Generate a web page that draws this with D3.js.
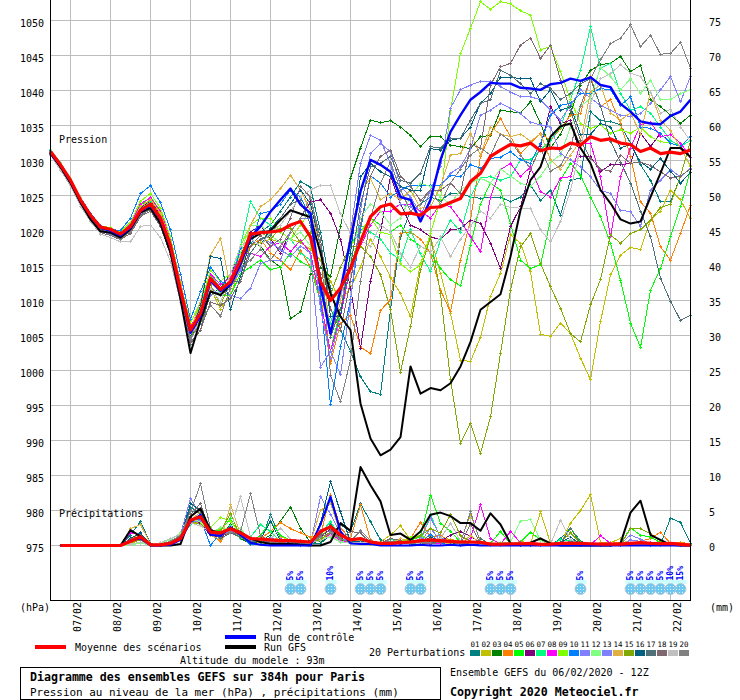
<!DOCTYPE html>
<html><head><meta charset="utf-8">
<script src="https://cdnjs.cloudflare.com/ajax/libs/d3/7.8.5/d3.min.js"></script>
<style>
html,body{margin:0;padding:0;background:#fff}
svg{display:block}
text{font-family:"DejaVu Sans Mono",monospace;font-size:10px;fill:#000}
</style></head><body><svg id="c" width="740" height="700"></svg>
<script>
const dateLabels=["07/02","08/02","09/02","10/02","11/02","12/02","13/02","14/02","15/02","16/02","17/02","18/02","19/02","20/02","21/02","22/02"];
const dateSteps=[2,6,10,14,18,22,26,30,34,38,42,46,50,54,58,62];
const pressureTicks=[1050,1045,1040,1035,1030,1025,1020,1015,1010,1005,1000,995,990,985,980,975];
const rainTicks=[75,70,65,60,55,50,45,40,35,30,25,20,15,10,5,0];
const memberIds=["01","02","03","04","05","06","07","08","09","10","11","12","13","14","15","16","17","18","19","20"];
const memberColors=["#008080","#c0c000","#008000","#ff8000","#00ff00","#800080","#00ff80","#ff00ff","#80ff00","#0080ff","#8080ff","#80ff80","#8080ff","#e0b040","#80a800","#006080","#507078","#806870","#c0c0c0","#808080"];

const meanP=[1031.5,1029.6,1027.4,1024.6,1022.4,1020.7,1020.4,1019.7,1020.8,1023.1,1024,1022,1018.1,1011.7,1006,1008.4,1013.4,1011.8,1012.9,1016,1019.7,1019.9,1020,1020.2,1021,1021.5,1019.3,1012.9,1010.2,1012,1014.8,1018.6,1022.2,1023.6,1024,1022.6,1022.7,1022.4,1023.5,1023.6,1024.2,1024.8,1027.2,1028.4,1030.8,1031.7,1032.5,1032.3,1032.7,1031.6,1032,1031.9,1032.7,1032.4,1033.6,1033.1,1033.3,1032.7,1032.5,1031.5,1032,1031.2,1031.4,1031.2,1031.7];
const controlP=[1031.3,1029.5,1027.3,1024.5,1022.3,1020.6,1020.2,1019.5,1020.6,1023,1023.8,1021.8,1017.9,1011.4,1005.6,1008,1013,1011.6,1012.5,1015.4,1019.3,1020.8,1022.9,1024.6,1026.2,1023.9,1022.7,1012.2,1005.5,1011.7,1018.9,1025.8,1030.3,1029.6,1028.6,1025,1024.6,1021.5,1024.6,1030.3,1034.3,1036.7,1038.9,1040,1041.3,1041.2,1041.2,1040.6,1040.5,1040.3,1041.1,1041.3,1041.9,1041.6,1042.1,1041,1040.7,1038.3,1037.2,1035.8,1035.5,1035.4,1036.6,1037.2,1038.9];
const gfsP=[1031.2,1029.3,1027,1024.2,1021.8,1020.1,1019.9,1019.2,1020.4,1022.8,1023.4,1021.2,1017,1010.4,1002.7,1007.4,1011.5,1011,1012.5,1015.5,1019,1019.8,1020.2,1021.7,1023.1,1022.6,1022.1,1017,1011.2,1007.9,1006,995.5,990.5,988.1,988.9,990.7,1000.8,996.9,997.7,997.4,998.4,1000.8,1004.3,1008.9,1010,1011.1,1016.5,1023.1,1027.4,1029.3,1033.6,1035.1,1035.5,1032,1029.8,1026,1024.1,1021.8,1021.2,1021.5,1025,1028.4,1032,1032,1030.7];

const p01=[1031.3,1029.4,1027.2,1024.4,1022.2,1020.6,1020.3,1019.6,1020.6,1023,1023.6,1021.8,1017.8,1011.2,1005.5,1008,1013,1012,1013,1016,1019,1020,1021,1023,1025,1027.2,1026.4,1020,1012,1006,1003,999.3,997.2,996.8,1008.9,1019.3,1023,1024,1025,1024.5,1025.5,1025.5,1025,1024.8,1025,1025,1024.3,1025,1026.7,1024.5,1026,1022.4,1027.4,1027.7,1037.2,1035.9,1035.8,1035.3,1032.7,1029.6,1027.4,1024.3,1024.3,1027.9,1029.1];
const p02=[1031,1029,1026.8,1024,1021.8,1020,1019.8,1019.2,1020.4,1023,1024.2,1022.4,1018.6,1012.4,1005,1007.5,1012,1009,1011,1015,1018,1018.5,1019,1018.5,1019,1018.5,1017.5,1016,1013,1010,1012,1015,1019,1016.5,1013.5,1011.2,1007.9,1015.5,1019.3,1014.1,1008.4,1001.7,1001.5,1005,1010.8,1014.1,1019.6,1018.4,1014.3,1005.4,1005.1,1007,1005.5,1002,998.9,1007.2,1013.9,1016.7,1017.8,1017.5,1021.7,1023,1026,1024.6,1021.9];
const p03=[1031.6,1029.7,1027.5,1024.5,1022.2,1020.4,1020,1019.3,1020.2,1022.6,1023.6,1021.5,1017.5,1010.5,1005,1007,1011,1012,1014,1017,1018.5,1018,1016,1015,1007.6,1008.6,1014,1015,1013.6,1020.8,1027.7,1032,1036,1035.6,1035.9,1035,1033.8,1032.2,1033.7,1033.6,1032.4,1032.2,1031.9,1033.6,1033.8,1037.4,1037.2,1037,1038.6,1035.5,1032,1034,1037,1041,1043.1,1043.9,1044.1,1045.1,1042.9,1043.8,1038.9,1037.9,1036.7,1035.5,1036.7];
const p04=[1031.4,1029.5,1027.5,1024.8,1022.6,1020.8,1020.5,1019.8,1021,1023.5,1024.6,1022.6,1018.6,1012.4,1006,1009,1014,1012,1013,1016,1018,1019,1017,1016,1014.6,1017.4,1015,1011,1001.2,1007,1008.1,1003.6,1002.6,1008.8,1010.3,1019.8,1020,1019,1017,1011.7,1008.6,1016,1021.7,1030.8,1034,1036.2,1033.6,1031.2,1032.7,1034.1,1033.1,1034.8,1036.7,1036.9,1042.2,1037.9,1038.9,1035.5,1030.8,1024.3,1022.7,1017.9,1016,1019.8,1023.8];
const p05=[1031.4,1029.5,1027.3,1024.6,1022.5,1020.7,1020.5,1019.9,1021,1023.8,1025,1023,1019,1012.5,1006.5,1009,1014,1011,1011,1014,1015,1016,1014.6,1015,1017,1015.8,1015,1010,1003,1009,1015,1020,1022,1021,1020,1021,1019,1018,1017,1014.8,1013.2,1012.3,1018.1,1024,1027,1026,1021.2,1016,1014.8,1015.3,1021.7,1027.4,1029.8,1028.1,1025,1022.2,1018.4,1013.1,1007,1003.5,1011.7,1014.8,1019.3,1023.6,1028.9];
const p06=[1031.1,1029.2,1027,1024.2,1022,1020.3,1020,1019.5,1020.5,1023.4,1024.4,1022.4,1018.2,1011.8,1005.5,1008.5,1013.5,1011.5,1013,1016,1020,1021,1019,1017,1020,1022,1024.3,1024.6,1022.7,1019,1012,1003.4,1013,1020,1028,1024,1021,1020.3,1019.3,1018.9,1020.3,1020.5,1021.7,1021.2,1018.4,1014.8,1020.8,1023.6,1028.9,1032.2,1037.9,1035.5,1036,1030.8,1030.8,1028.6,1029.6,1029.6,1029.8,1034.1,1032.2,1034.1,1032.7,1032.2,1030.7];
const p07=[1031.7,1029.8,1027.6,1024.7,1022.4,1020.6,1020.3,1019.7,1020.9,1023.3,1024.3,1022.3,1018.3,1012,1006,1009.5,1014,1012,1013,1018,1024.3,1022,1021,1020,1019,1017,1016,1012,1007,1012,1018,1021,1020,1019,1017,1016,1020.3,1016.9,1014.3,1018.9,1021.7,1020,1025,1027.7,1027.9,1027.4,1027.9,1030.3,1030.3,1031.7,1033.1,1035,1038.9,1043.1,1049.3,1043.4,1044.1,1039.8,1037.4,1037.9,1037,1035,1033.1,1032.2,1033.1];
const p08=[1031.2,1029.3,1027.1,1024.3,1022.3,1020.6,1020.1,1019.6,1021.2,1024,1024.9,1022.9,1018.9,1012.5,1006.5,1009,1014,1012.5,1013.5,1017,1017,1016.5,1018,1018.5,1017.2,1018.8,1017,1010,1003,1008,1015,1018,1021,1023,1023,1024,1024,1023,1022,1024,1023.6,1021.7,1019.3,1017.2,1025,1028.9,1029.8,1027.9,1029.3,1025.8,1025,1027.7,1027.9,1032.7,1032.7,1027.9,1019.3,1027.9,1032,1035.3,1035.7,1033.6,1033.9,1032.7,1030.7];
const p09=[1031.5,1029.6,1027.5,1024.7,1022.6,1020.9,1020.6,1020,1021.4,1024.4,1025.5,1023.4,1019.3,1012.8,1007,1010,1014.5,1013,1014,1018,1021,1022,1022,1020,1019,1021,1023,1018,1011,1015,1018,1020,1022,1020,1019.6,1015.5,1014.3,1015.3,1019.8,1024.6,1037.4,1045.5,1049.1,1052.9,1051.8,1052.9,1052.6,1051.6,1051,1046,1046.5,1042.9,1038.9,1035.5,1034.8,1035.3,1034.1,1034.6,1034.1,1035,1033.6,1032.9,1032.7,1032.2,1029.3];
const p10=[1031.6,1029.8,1027.6,1024.9,1022.7,1020.9,1020.4,1020.2,1022,1025.5,1026.6,1024.2,1020.3,1014,1007.5,1011.5,1015,1013,1012,1017.7,1017.9,1022.6,1023,1024,1026,1025,1022,1011,995.3,1003.6,1010.3,1020.3,1028,1027,1025,1026,1026.7,1026.7,1026.7,1026.7,1028.1,1027.9,1029.6,1029.1,1030.5,1030.7,1031.5,1030.3,1029.8,1032.7,1036.7,1038.1,1038.4,1039.8,1039.8,1040.5,1040.3,1038.1,1039.3,1035,1034.8,1034.1,1032.7,1032.2,1033.6];
const p11=[1031,1029.1,1026.9,1024.1,1021.9,1020.1,1019.7,1019,1020.2,1022.8,1024,1022,1018,1011.5,1005,1008,1011,1011.5,1011,1010.5,1012,1015.5,1016,1016,1020,1022,1022,1009,1002,1008,1020,1029.8,1033.8,1033.1,1029.8,1024,1023.6,1022.2,1026,1029.3,1037.7,1040.3,1041,1041.5,1041.5,1040.8,1040,1039.3,1039.3,1038.9,1037.4,1036,1038.1,1040.3,1039.1,1038.1,1037.4,1036.7,1036.5,1036.9,1038.4,1040.3,1042.2,1038.6,1042.2];
const p12=[1031.8,1029.9,1027.7,1024.9,1022.5,1020.7,1020.4,1019.8,1020.8,1022.8,1023.4,1021.4,1017.5,1011.5,1006,1009,1013.5,1011,1012,1017,1021,1021,1019.5,1018.5,1019,1020,1018,1014,1006,1011,1016,1022,1024,1023,1021,1022,1025,1027,1026.5,1025,1024,1026,1027,1027.7,1027,1029,1028,1027,1026.5,1028,1030,1031,1035,1038,1039,1043.5,1042.2,1040.3,1041.9,1039.8,1041.7,1038.9,1038.9,1039.8,1040.3];
const p13=[1031.2,1029.2,1027,1024.3,1022.1,1020.4,1020,1019.3,1020.4,1022.5,1023.2,1021.2,1017.2,1011,1004.5,1007.5,1012,1011,1012,1014.5,1017,1019,1018.5,1017.5,1016.5,1018,1017,1000.7,1003,999.6,1010,1023,1031.2,1032.6,1031.5,1026.5,1025,1022.7,1023.6,1026.5,1028.4,1029.3,1031.9,1036.7,1037.4,1038.4,1037.7,1036.9,1035.7,1035.3,1035,1031.2,1030.3,1029.3,1027.9,1026,1025.5,1023.1,1022.9,1020.8,1026,1027.4,1028.9,1027.9,1029.1];
const p14=[1031.3,1029.3,1027.2,1024.6,1022.4,1020.5,1020.2,1019.5,1021,1023.6,1024.7,1022.7,1018.7,1013,1006,1010,1016.7,1019.1,1012.2,1015,1021,1023.6,1024.6,1026.2,1028.1,1026,1023,1018,1005,1010,1020,1026,1027.6,1024.6,1025.5,1024.6,1026,1023.4,1023.6,1026.5,1031,1031.2,1034.1,1031,1035,1034,1033.6,1034,1033,1034,1030.3,1029,1031,1033,1040,1041,1037,1036,1037,1034,1040,1036,1034.5,1032,1029.5];
const p15=[1031,1029.1,1026.9,1024.2,1022.1,1020.3,1019.9,1019.3,1020.5,1022.9,1023.9,1021.9,1017.9,1011.6,1005,1008,1012.5,1009.5,1013,1015,1019.5,1020,1019,1020.5,1020.5,1018.5,1020,1018,1011,1015,1018,1018,1016.5,1013.9,1008.9,1000,1006.5,1014.6,1019.3,1011.2,998.9,989.8,992.7,988.4,993.6,1002.7,1011.7,1017.9,1019.8,1015.5,1012.2,1009.1,1005.5,1004.3,1009.6,1013.2,1019.6,1018.4,1019.8,1020.3,1021.7,1023.5,1024,1028,1033];
const p16=[1031.2,1029.4,1027.3,1024.5,1022.3,1020.5,1020.1,1019.4,1020.5,1023.2,1024.1,1021.9,1017.7,1011.3,1005,1009.5,1016.5,1016.2,1008.9,1013.6,1019,1018,1020.5,1022,1024,1026,1024,1018,1008,1008,1017,1027.9,1029.8,1028.6,1027.9,1026.5,1026,1026,1031.9,1031.7,1033.1,1033.4,1035,1038.4,1039.8,1042.1,1042.1,1041.9,1041.9,1038.6,1040.3,1037.4,1037.9,1034,1034,1035.5,1035,1032,1032.5,1030,1029,1030.5,1028.7,1027,1028.5];
const p17=[1031.4,1029.4,1027.2,1024.3,1022.1,1020.3,1019.8,1019.1,1020,1022.4,1023.2,1021.2,1017.2,1010.8,1004,1006,1011.5,1011,1013,1013,1017,1019,1019.5,1022,1024,1024.5,1021,1014,1005,1009,1015,1024,1029.3,1029.8,1030.8,1027.4,1027,1028.4,1032.2,1032,1033.4,1033.4,1036,1038.4,1038.9,1043.1,1042.4,1041.2,1039.8,1041.2,1040.5,1038.9,1039.8,1041.2,1041.9,1038,1033,1030,1027,1023,1019.3,1013.4,1010.1,1007.4,1008.1];
const p18=[1031.1,1029,1026.8,1024,1021.7,1019.9,1019.5,1018.9,1019.8,1022.2,1023,1020.8,1016.8,1010.4,1004.2,1006,1010,1009.5,1010.5,1013,1018,1019.5,1018,1019,1022,1026.5,1025,1019,1009,1006,1013,1021,1028,1030.8,1031.7,1028,1026.5,1024.5,1026,1026,1027,1025.5,1032.5,1032,1041,1043.6,1044.1,1046.7,1047.7,1044.8,1046.7,1041.7,1037.4,1033.1,1030.5,1029,1028.7,1031,1029.8,1030,1029.5,1028.6,1027.7,1028,1029];
const p19=[1031,1028.8,1026.6,1023.7,1021.5,1019.7,1019.2,1018.6,1018.6,1020.8,1021,1019.2,1015.8,1010,1005.5,1007,1012,1010,1014,1018,1019,1018,1020,1021,1023,1025,1026,1026.7,1026.6,1022.6,1019.8,1018.8,1018,1021,1020,1017,1015,1018,1017,1019.3,1016.5,1019,1020.8,1023,1022,1024,1023.5,1023.4,1023.4,1020.3,1018.6,1021.5,1026,1032,1038.4,1041.9,1042.6,1043.9,1042.7,1042.2,1040,1037,1037.5,1035,1033];
const p20=[1031.5,1029.5,1027.3,1024.4,1022,1020.2,1019.8,1019,1020.1,1022.3,1023.3,1021.3,1017.4,1011,1004.8,1007,1009.5,1008,1012,1015,1016,1017.5,1016,1018,1020,1022,1025,1018,999.5,995.8,1001.7,1013,1022,1027,1030,1026,1023,1024,1026,1024,1027,1029,1031,1032,1031,1034,1033,1031,1029,1032,1028.7,1029.5,1032,1038,1041.9,1044.6,1046.9,1047.7,1049.6,1046.5,1048.1,1045.4,1045.5,1047.1,1043.4];
const memberPressure=[p01,p02,p03,p04,p05,p06,p07,p08,p09,p10,p11,p12,p13,p14,p15,p16,p17,p18,p19,p20];

const meanR=[0,0,0,0,0,0,0,.6,1.25,.1,.1,.3,1,3.6,4.1,1.9,1.8,2.4,1.8,1,.9,.8,.7,.7,.6,.5,2,2.7,1.5,.8,1,.5,.3,.3,.4,.5,.7,.8,.7,.6,.5,.5,.45,.2,.2,.25,.25,.3,.15,.2,.3,.35,.3,.25,.2,.2,.2,.3,.4,.3,.25,.3,.15,.05];
const controlR=[0,0,0,0,0,0,0,.7,1,0,0,.1,.8,3.4,4.4,1.5,1.4,2.6,1.5,.4,.1,0,0,0,0,0,3,7,2,.3,.2,.2,0,0,0,0,.1,0,0,.1,0,.1,0,0,0,0,0,0,0,0,0,0,0,0,0,0,0,0,0,0,0,0,0,0];
const gfsR=[0,0,0,0,0,0,0,2.2,1.3,0,0,0,.2,4.1,5.3,2.2,1.7,2.4,1.9,1,.5,.2,.2,.2,.1,0,0,.5,3.2,2.1,11.2,8.6,6.3,1.5,1.7,.8,2,4.4,4.7,4.2,3.2,3.2,2.1,4.6,3,.3,.1,.4,1,.3,0,0,0,0,0,0,.3,4.7,6.4,1.5,.8,.1,0,0];
const r01=[0,0,0,0,0,0,0,1.5,3.4,.3,0,.2,.8,5.5,4.5,2,1.5,2,1.2,.5,.6,4.4,1,.4,.3,.2,.3,1.5,3,2,6,3.4,.8,.3,.4,.3,.8,1,.5,.4,.3,.2,.1,0,.2,.1,0,0,.1,0,1,2.5,.6,.1,0,0,0,.1,.1,.3,.2,3.9,3.3,.3];
const r02=[0,0,0,0,0,0,0,.3,.8,0,.1,.4,1.2,3,3.4,1.4,2.4,2.2,1,.4,.5,.2,.3,.4,.2,.3,.8,1.6,1,.4,.6,.3,.5,1.5,2.8,.8,.4,.3,1,.9,.6,4.4,.6,.3,.1,.2,.6,.3,4.8,.3,.2,3.2,5,7.3,.5,.4,1,.2,.1,.1,.1,0,0,0];
const r03=[0,0,0,0,0,0,0,.5,1,0,.1,.2,.8,3.5,3,1.8,1.5,3,1,.3,.6,1.5,3.5,5.5,2.5,.4,.6,1.4,.8,.3,.4,.2,.2,.3,.6,.2,.1,.4,.3,.5,.2,.1,.2,0,.3,.1,0,.2,.1,0,.3,.4,.1,0,0,.1,0,.2,.3,.1,0,.1,0,0];
const r04=[0,0,0,0,0,0,0,1,1.7,.1,0,.4,1.2,4,3.5,1.6,.6,2.3,1.5,.8,1,2,3.3,2.4,1.8,1.2,1.4,7.2,2.5,1,5.8,.8,.2,.4,.6,1,3.3,1.2,1.5,.4,.3,.2,.1,0,0,.2,.1,.3,.1,.1,.2,.1,0,.2,0,.3,.5,.2,.6,1,1.9,.3,.5,.2];
const r05=[0,0,0,0,0,0,0,.8,1.3,.2,.1,.3,1,3.4,3.6,1.9,2.2,3.8,1.3,.6,1.4,3.5,1.4,.8,.6,.4,.8,2,.9,.4,.4,.5,.3,.3,.5,.8,1.2,7.2,3.2,2,.5,.3,.2,.3,2,.2,.5,1.9,.8,.1,.2,2.5,.5,.1,.1,.3,.2,2.5,1.5,1.2,.4,.2,0,0];
const r06=[0,0,0,0,0,0,0,.6,1.2,.1,0,.6,1.4,4,3.2,1.4,1.2,2,1.6,.9,.7,.5,.6,.5,.3,.3,1.2,2.4,1.1,.4,.5,.2,.1,.2,.3,.2,.5,.8,.6,1.5,2,1.3,.5,.2,.1,0,.1,.2,.3,.1,.2,.1,.1,0,.1,.2,0,.1,.2,.1,.1,0,0,0];
const r07=[0,0,0,0,0,0,0,.5,.9,.2,.1,.3,.9,3,3.8,2.3,1.6,2.8,1,1.2,3,2,.6,.4,.4,.2,1.8,3.4,1.3,.6,.8,.3,.2,.9,.5,.6,.5,4.5,1,.6,.3,.2,.1,.2,.4,.1,.2,.3,.1,.1,.8,.7,.2,.1,0,.1,.1,.4,.2,.1,.2,0,0,0];
const r08=[0,0,0,0,0,0,0,1.8,1.5,.1,0,.5,1.3,3.6,4,1.7,1.3,2.6,2,1,.8,.6,1,.6,.5,.4,.9,1.6,.7,.4,.9,.4,.2,.2,.3,.4,.2,.3,.3,.2,.5,1,5.8,1,.2,2,.4,.1,.1,.1,.2,.1,0,.1,1.4,.3,.1,.1,.2,.5,.4,.1,0,0];
const r09=[0,0,0,0,0,0,0,.4,1,0,.2,.6,1.2,3.2,3.8,2.6,4,3.5,1.5,.6,.5,.9,.8,.4,.6,.3,1.4,2.6,1.4,.7,.9,.3,.3,.4,.5,1.2,1.4,.9,.5,.3,.2,.2,.3,.1,.1,.2,.1,.3,.2,.2,.3,.3,.1,0,.1,0,.1,.3,.2,.1,.1,0,0,0];
const r10=[0,0,0,0,0,0,0,.7,1.2,0,0,.1,.9,3.3,3.8,0,1.8,2.2,1.4,.1,.2,1.2,.3,.3,0,.1,3,6.5,1.8,.6,.7,.1,.1,.5,.2,.3,.4,1.6,.4,.1,0,.1,.1,.1,.1,0,.1,.2,0,0,.1,.6,.1,0,0,0,.1,.2,.1,0,0,.1,0,0];
const r11=[0,0,0,0,0,0,0,.8,1.1,.1,.2,.3,1.6,6.7,4.4,1.4,1.5,2,1.8,.5,.9,.7,.5,.3,.4,.2,7,4.5,1.7,.5,.7,.4,.2,.2,.4,.3,1,4,1.2,.4,.2,.1,.2,.1,.2,0,.1,.1,.1,.1,.3,.2,.1,.1,0,.1,.2,1.5,.9,.3,.1,0,0,0];
const r12=[0,0,0,0,0,0,0,.1,.3,.1,.3,.8,1.8,3.8,3.4,1.7,2.6,2.3,2.4,.7,.5,.4,.6,.5,.4,.2,1,1.2,.5,.3,.5,.2,.4,.3,.4,.7,.8,.9,.4,.3,.4,.1,.2,.2,.4,.5,3.5,3.7,.7,.2,.3,.2,.2,.1,.2,0,.1,.2,.1,.1,.2,0,0,0];
const r13=[0,0,0,0,0,0,0,.7,1,.1,0,.2,1,3.2,3.6,2,1.8,1.8,1.6,.7,.8,1,.7,.9,.7,.4,2.2,2,1,.6,.7,.4,.1,.1,.3,.2,.5,2.5,.6,.3,.3,.2,.1,0,.1,.1,.2,.2,.1,0,.2,.2,.1,0,.1,.1,0,.8,.6,.2,0,0,0,0];
const r14=[0,0,0,0,0,0,0,2.4,3,.2,.1,.5,1.1,3.6,4.8,1.5,.8,5.8,1.6,1.2,.9,.7,1.2,.8,.6,.5,5,6,1.8,.6,.8,.6,.2,.3,1,.5,.9,.6,.4,.3,.3,1.4,.4,.2,.1,.1,.2,.2,1,.2,.2,.2,.1,0,.1,.2,.1,.3,.2,.2,.3,.1,0,0];
const r15=[0,0,0,0,0,0,0,.4,.8,.1,.2,.5,1.3,3.5,3,2.2,2,4.6,1.2,.5,.6,.8,.4,.6,.5,.3,.9,1.8,.9,.4,.6,.2,.2,.6,.3,.8,1.4,2.4,1.8,4.4,1.4,.6,.3,.1,.2,.2,.3,.1,.3,.1,.4,1.8,.3,.1,0,.1,.1,2.4,2.4,1.7,.6,.1,0,0];
const r16=[0,0,0,0,0,0,0,1,1.8,.1,0,.2,1.1,6,5,1.6,1.2,2.5,1.4,.3,.8,3.5,.7,.4,.3,.1,3.2,9.1,4.8,.5,.6,.3,.1,.2,.3,.2,.4,1.2,.6,.4,.2,.1,.2,.1,.1,.1,.1,.2,.1,.1,.4,1.2,.2,0,.1,0,.2,.3,.1,.2,.1,0,0,0];
const r17=[0,0,0,0,0,0,0,.6,1,.1,.1,.4,1.4,5,4.6,2,1,1.8,1.2,.6,.5,.4,.7,.5,.3,.3,1.6,3,1.5,.7,.9,.4,.2,.4,.6,.4,.6,.5,.4,.6,.4,.2,1,.1,.2,.1,.1,.2,.1,.1,.3,2.5,.3,.1,0,.1,0,.2,.2,.1,.1,.1,0,0];
const r18=[0,0,0,0,0,0,0,.9,1.4,.1,.1,.3,1.2,4.4,6,1.8,1.4,1.9,1.5,1,.7,.5,.4,.6,.4,.3,1.4,2.2,1,2,1.8,.4,.3,1,.7,.3,.3,.2,.5,.4,.3,3,.3,.1,.2,.1,.2,.1,.2,.1,.2,.2,.1,.1,.1,.1,.1,.2,.3,.2,.1,0,0,0];
const r19=[0,0,0,0,0,0,0,.2,.5,.1,.4,1,1.6,3.2,2.8,2,1.6,2.2,7,1.2,.7,.9,2.5,.9,.6,.4,.7,1.4,.6,.3,.5,.3,.2,.3,.4,.3,.3,.8,1,3.2,.6,.3,.2,.1,.2,.1,.2,.4,.3,.2,3.6,.9,.2,.1,.1,.1,.2,.4,.3,.2,.2,.1,0,0];
const r20=[0,0,0,0,0,0,0,.6,.9,.1,.2,.6,1.5,4.8,8.8,2.4,1.6,1.8,2,7.4,1.4,.6,.8,.6,.4,.3,1.2,1.9,.9,.6,2.1,.7,.4,.6,.4,.3,.4,.5,.7,.6,.4,4.8,.4,.2,.2,.1,.1,.1,.1,.1,.3,.4,.2,.1,.1,.1,.1,.2,.2,.1,.1,0,0,0];
const memberRain=[r01,r02,r03,r04,r05,r06,r07,r08,r09,r10,r11,r12,r13,r14,r15,r16,r17,r18,r19,r20];

const snowSteps=[24,25,28,31,32,33,36,37,44,45,46,53,58,59,60,61,62,63];
const snowProb=[5,5,10,5,5,5,5,5,5,5,5,5,5,5,5,5,10,15];

const svg=d3.select("#c");
const x=d3.scaleLinear().domain([0,64]).range([50.5,690.5]);
const yP=d3.scaleLinear().domain([975,1050]).range([547,22]);
const yR=d3.scaleLinear().domain([0,75]).range([545.5,20.5]);
const gridGap=1.5, gridColor="#bdbdbd";
const plotBottom=600;

const grid=svg.append("g").attr("shape-rendering","crispEdges");
grid.selectAll(".v").data(dateSteps).join("line")
  .attr("x1",d=>x(d)).attr("x2",d=>x(d)).attr("y1",0).attr("y2",plotBottom).attr("stroke",gridColor);
grid.selectAll(".h").data(pressureTicks).join("line")
  .attr("x1",x(0)).attr("x2",x(64)).attr("y1",d=>yP(d)-gridGap).attr("y2",d=>yP(d)-gridGap).attr("stroke",gridColor);

const lineP=d3.line().x((d,i)=>x(i)).y(d=>yP(d));
const lineR=d3.line().x((d,i)=>x(i+1)).y(d=>yR(d));
const layer=svg.append("g").attr("fill","none").attr("shape-rendering","crispEdges");
const cross="M-1.5,0H1.5M0,-1.5V1.5";
function drawMember(values,line,xf,yf,color){
  layer.append("path").datum(values).attr("d",line).attr("stroke",color).attr("stroke-width",1);
  layer.append("g").selectAll("path").data(values).join("path").attr("d",cross).attr("stroke",color)
    .attr("transform",(d,i)=>`translate(${xf(i)},${yf(d)})`);
}
memberRain.forEach((v,k)=>drawMember(v,lineR,i=>x(i+1),yR,memberColors[k]));
memberPressure.forEach((v,k)=>drawMember(v,lineP,i=>x(i),yP,memberColors[k]));
function thick(values,line,color,w){
  layer.append("path").datum(values).attr("d",line).attr("stroke",color).attr("stroke-width",w).attr("stroke-linejoin","round").attr("shape-rendering","auto");
}
thick(gfsR,lineR,"#000",2);
thick(controlR,lineR,"#0000ff",2);
thick(gfsP,lineP,"#000",2);
thick(controlP,lineP,"#0000ff",2.4);
thick(meanR,lineR,"#ff0000",3.2);
thick(meanP,lineP,"#ff0000",3.2);

const axes=svg.append("g").attr("stroke","#000").attr("shape-rendering","crispEdges");
axes.append("line").attr("x1",x(0)).attr("x2",x(0)).attr("y1",0).attr("y2",plotBottom+1);
axes.append("line").attr("x1",x(64)).attr("x2",x(64)).attr("y1",0).attr("y2",plotBottom+1);
axes.append("line").attr("x1",x(0)).attr("x2",x(64)).attr("y1",plotBottom+.5).attr("y2",plotBottom+.5);

function t(s,px,py,opt={}){
  const e=svg.append("text").attr("x",px).attr("y",py).text(s);
  if(opt.size)e.style("font-size",opt.size+"px");
  if(opt.bold)e.style("font-weight","bold");
  if(opt.anchor)e.attr("text-anchor",opt.anchor);
  if(opt.fill)e.style("fill",opt.fill);
  if(opt.rot)e.attr("transform",`rotate(-90 ${px} ${py})`);
  return e;
}
pressureTicks.forEach(v=>t(v,44,yP(v)+4.5,{anchor:"end"}));
rainTicks.forEach(v=>t(v,709,yR(v)+5.8,{}));
dateLabels.forEach((s,k)=>t(s,x(dateSteps[k])+10,602,{rot:true,anchor:"end"}));
t("Pression",59,143);
t("Précipitations",59,517);
t("(hPa)",20,611);
t("(mm)",710,611);

// snow icons
const defs=svg.append("defs");
const pat=defs.append("pattern").attr("id","flake").attr("width",3).attr("height",3).attr("patternUnits","userSpaceOnUse");
pat.append("rect").attr("width",3).attr("height",3).attr("fill","#6cc8f0");
pat.append("rect").attr("x",1).attr("y",1).attr("width",1).attr("height",1).attr("fill","#e4f4fc");
const snow=svg.append("g");
snow.selectAll(".band").data(snowSteps).join("rect").attr("x",d=>x(d)-5).attr("y",580).attr("width",11).attr("height",4).attr("fill","#ccffff");
snow.selectAll(".fl").data(snowSteps).join("circle").attr("cx",d=>x(d)).attr("cy",589).attr("r",5.5).attr("fill","url(#flake)").attr("stroke","#b4bfcc").attr("stroke-width",.8);
snowSteps.forEach((d,k)=>t(snowProb[k]+"%",x(d)+2,580.5,{rot:true,size:8,fill:"#0000ff",bold:true}));

// legend
const leg=svg.append("g").attr("shape-rendering","crispEdges");
[[35,66,647,"#ff0000"],[225,256,637,"#0000ff"],[225,256,647,"#000000"]].forEach(r=>
  leg.append("line").attr("x1",r[0]).attr("x2",r[1]).attr("y1",r[2]).attr("y2",r[2]).attr("stroke",r[3]).attr("stroke-width",4));
t("Moyenne des scénarios",75,651);
t("Run de contrôle",264,641);
t("Run GFS",264,651);
t("Altitude du modele : 93m",180,664);
t("20 Perturbations",369,656);
memberIds.forEach((id,k)=>{
  leg.append("rect").attr("x",470+11*k).attr("y",650).attr("width",10).attr("height",6).attr("fill",memberColors[k]);
  t(id,475+11*k,647,{size:7.5,anchor:"middle"});
});
svg.append("rect").attr("x",20.5).attr("y",667.5).attr("width",420).attr("height",32).attr("fill","none").attr("stroke","#000").attr("shape-rendering","crispEdges");
t("Diagramme des ensembles GEFS sur 384h pour Paris",30,681,{bold:true,size:11.6});
t("Pression au niveau de la mer (hPa) , précipitations (mm)",30,696,{size:10.95});
t("Ensemble GEFS du 06/02/2020 - 12Z",450,676);
t("Copyright 2020 Meteociel.fr",450,696,{bold:true,size:11.6});
</script></body></html>
